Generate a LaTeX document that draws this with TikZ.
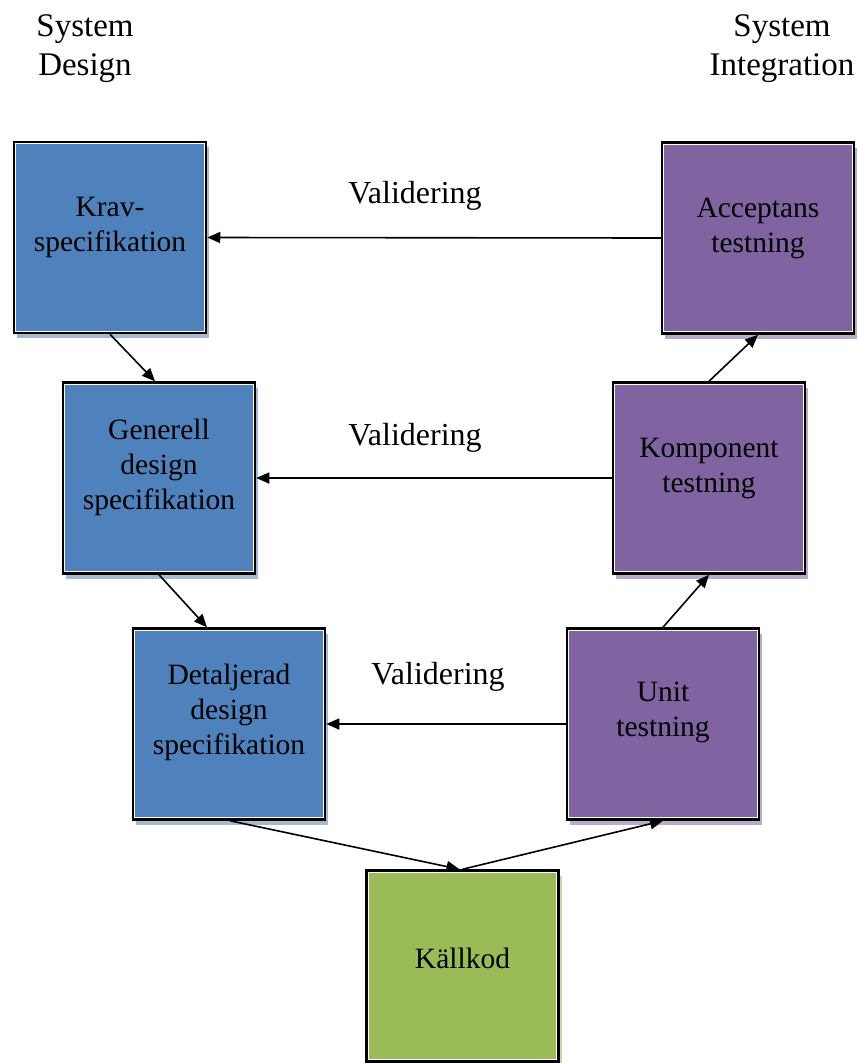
\documentclass[tikz,border=0pt]{standalone}
\usepackage{fontspec}
\setmainfont{Liberation Serif}
\usetikzlibrary{arrows.meta,shadows}
\definecolor{bblue}{HTML}{4F81BD}
\definecolor{bpurple}{HTML}{8064A2}
\definecolor{bgreen}{HTML}{9BBB59}
\definecolor{sblue}{HTML}{A7B9D1}
\definecolor{spurple}{HTML}{B8AACB}
\definecolor{sgreen}{HTML}{CBD6B5}
\begin{document}
\begin{tikzpicture}[x=1pt,y=-1pt,
  box/.style={draw=black, line width=2.5pt, minimum width=192pt, minimum height=191pt, inner sep=0pt,
    path picture={\draw[white,line width=4.2pt] (path picture bounding box.south west) rectangle (path picture bounding box.north east);}},
  bluebox/.style={box, fill=bblue, drop shadow={shadow xshift=3pt, shadow yshift=-5pt, fill=sblue, opacity=1}},
  purplebox/.style={box, fill=bpurple, drop shadow={shadow xshift=3pt, shadow yshift=-5pt, fill=spurple, opacity=1}},
  greenbox/.style={box, fill=bgreen, drop shadow={shadow xshift=3pt, shadow yshift=-5pt, fill=sgreen, opacity=1}},
  txt/.style={font=\fontsize{29.5}{35}\selectfont, align=center, inner sep=0pt, text=black},
  vtxt/.style={font=\fontsize{32}{38}\selectfont, inner sep=0pt},
  htxt/.style={font=\fontsize{33}{39}\selectfont, align=center, inner sep=0pt},
  arr/.style={-{Triangle[length=13pt,width=11pt]}, line width=1.6pt}]
\useasboundingbox (0,0) rectangle (859,1063);

% headers
\node[htxt] (hl) at (85,49) {System\\Design};
\node[htxt] (hr) at (782,49) {System\\Integration};

% boxes
\node[bluebox] (krav) at (110,237.5) {};
\node[bluebox] (gen) at (159,478) {};
\node[bluebox] (det) at (229,724) {};
\node[greenbox] (kall) at (462.5,966) {};
\node[purplebox] (acc) at (758,238) {};
\node[purplebox] (komp) at (709,478) {};
\node[purplebox] (unit) at (663,724) {};

% box texts
\node[txt] (kravT) at ([yshift=10pt]krav.center) {Krav-\\specifikation};
\node[txt] (genT) at ([yshift=11pt]gen.center) {Generell\\design\\specifikation};
\node[txt] (detT) at ([yshift=12pt]det.center) {Detaljerad\\design\\specifikation};
\node[txt] (kallT) at ([yshift=8pt]kall.center) {Källkod};
\node[txt] (accT) at ([yshift=10pt]acc.center) {Acceptans\\testning};
\node[txt] (kompT) at ([yshift=9pt]komp.center) {Komponent\\testning};
\node[txt] (unitT) at ([yshift=12pt]unit.center) {Unit\\testning};

% validation labels
\node[vtxt] (v1) at (415,196) {Validering};
\node[vtxt] (v2) at (415,438) {Validering};
\node[vtxt] (v3) at (438,677) {Validering};

% arrows
\draw[arr] (acc.west) -- (krav.east);
\draw[arr] (komp.west) -- (gen.east);
\draw[arr] (unit.west) -- (det.east);
\draw[arr] (krav.south) -- ([xshift=-4pt]gen.north);
\draw[arr] (gen.south) -- ([xshift=-22pt]det.north);
\draw[arr] ([xshift=1pt]det.south) -- ([xshift=-3pt]kall.north);
\draw[arr] (kall.north) -- (unit.south);
\draw[arr] (unit.north) -- (komp.south);
\draw[arr] (komp.north) -- (acc.south);
\end{tikzpicture}
\end{document}
